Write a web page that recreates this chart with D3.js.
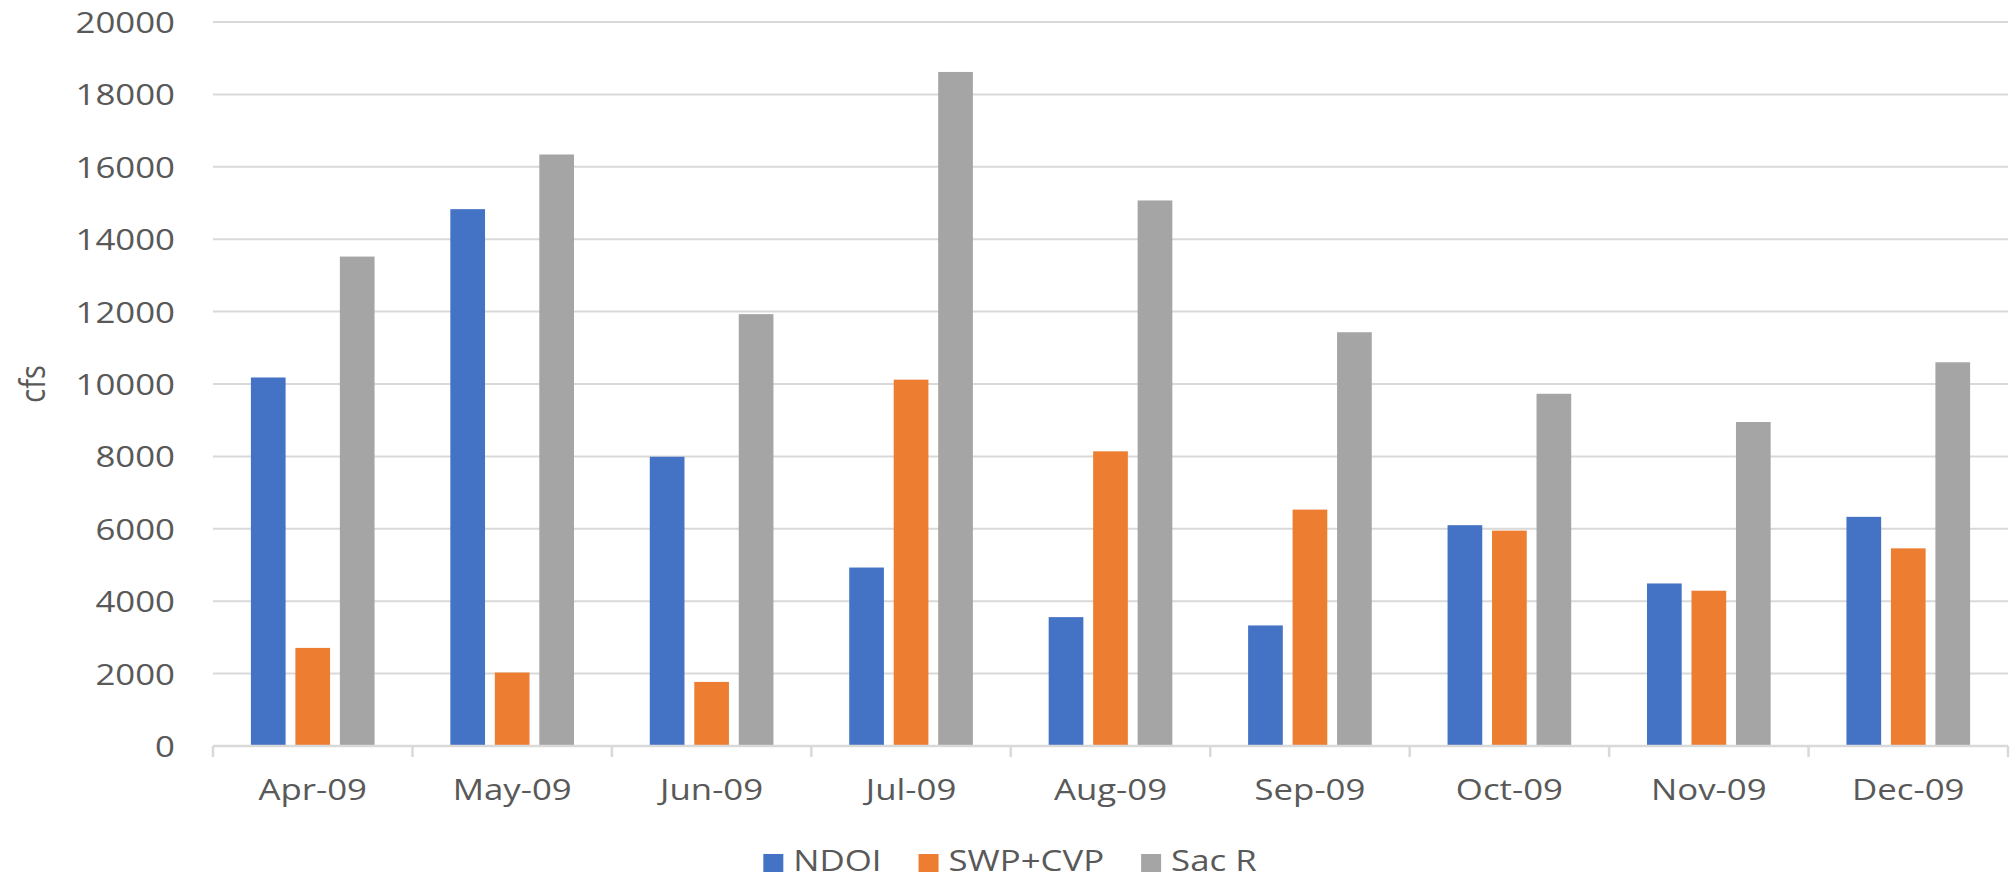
<!DOCTYPE html>
<html>
<head>
<meta charset="utf-8">
<script src="https://cdn.jsdelivr.net/npm/d3@7"></script>
<style>
  html, body { margin: 0; padding: 0; background: #ffffff; }
  svg { display: block; }
  text { font-family: "Open Sans", "Noto Sans", sans-serif; fill: #595959; }
</style>
</head>
<body>
<svg id="chart" width="2013" height="879"></svg>
<script>
// Monthly flows, 2009 (cfs)
const months = ["Apr-09", "May-09", "Jun-09", "Jul-09", "Aug-09", "Sep-09", "Oct-09", "Nov-09", "Dec-09"];
const seriesNames = ["NDOI", "SWP+CVP", "Sac R"];
const ndoi   = [10180, 14830, 7990, 4930, 3560, 3330, 6100, 4490, 6330];
const swpCvp = [2710, 2030, 1770, 10120, 8140, 6530, 5950, 4290, 5460];
const sacR   = [13520, 16340, 11930, 18620, 15070, 11430, 9730, 8950, 10600];
const yTicks = [0, 2000, 4000, 6000, 8000, 10000, 12000, 14000, 16000, 18000, 20000];
const colors = ["#4472C4", "#ED7D31", "#A5A5A5"];

const values = [ndoi, swpCvp, sacR];
const rows = months.map((m, i) => ({
  month: m,
  items: seriesNames.map((s, j) => ({ series: s, value: values[j][i] }))
}));

const svg = d3.select("#chart");
const plot = { left: 213, right: 2008, top: 22, bottom: 746 };
const stretch = 1.2;   // horizontal widening of the label glyphs
const fontSize = 29;

const x0 = d3.scaleBand().domain(months).range([plot.left, plot.right]).paddingInner(0).paddingOuter(0);
const groupWidth = x0.bandwidth() * 0.62;
const x1 = d3.scaleBand().domain(seriesNames).range([0, groupWidth]).paddingInner(0.22).paddingOuter(0);
const y = d3.scaleLinear().domain([0, 20000]).range([plot.bottom, plot.top]);
const color = d3.scaleOrdinal().domain(seriesNames).range(colors);

// horizontal gridlines
svg.append("g")
  .selectAll("line")
  .data(yTicks.filter(d => d > 0))
  .join("line")
  .attr("x1", plot.left).attr("x2", plot.right)
  .attr("y1", d => y(d)).attr("y2", d => y(d))
  .attr("stroke", "#d9d9d9").attr("stroke-width", 2);

// y axis labels
const yAxis = d3.axisLeft(y).tickValues(yTicks).tickSize(0).tickPadding(0).tickFormat(d3.format("d"));
const yg = svg.append("g").attr("transform", `translate(175,0)`).call(yAxis);
yg.select(".domain").remove();
yg.selectAll(".tick text")
  .attr("font-size", fontSize)
  .attr("font-family", null)
  .attr("fill", "#595959")
  .attr("dy", "0.36em")
  .attr("transform", `scale(${stretch},1)`);

// bars
const groups = svg.append("g")
  .selectAll("g")
  .data(rows)
  .join("g")
  .attr("transform", d => `translate(${x0(d.month) + (x0.bandwidth() - groupWidth) / 2},0)`);

groups.selectAll("rect")
  .data(d => d.items)
  .join("rect")
  .attr("x", d => x1(d.series))
  .attr("width", x1.bandwidth())
  .attr("y", d => y(d.value))
  .attr("height", d => y(0) - y(d.value))
  .attr("fill", d => color(d.series));

// category axis
const xAxis = d3.axisBottom(x0).tickSize(0).tickPadding(0);
const xg = svg.append("g").attr("transform", `translate(0,${plot.bottom})`).call(xAxis);
xg.select(".domain").remove();
xg.selectAll(".tick text")
  .attr("font-size", fontSize)
  .attr("font-family", null)
  .attr("fill", "#595959")
  .attr("y", 54)
  .attr("dy", 0)
  .attr("transform", `scale(${stretch},1)`);

svg.append("line")
  .attr("x1", plot.left).attr("x2", plot.right)
  .attr("y1", plot.bottom).attr("y2", plot.bottom)
  .attr("stroke", "#d9d9d9").attr("stroke-width", 2.5);

// tick marks at category boundaries
const bounds = months.map(m => x0(m)).concat([plot.right]);
svg.append("g")
  .selectAll("line")
  .data(bounds)
  .join("line")
  .attr("x1", d => d).attr("x2", d => d)
  .attr("y1", plot.bottom).attr("y2", plot.bottom + 11)
  .attr("stroke", "#d9d9d9").attr("stroke-width", 2.5);

// y axis title
svg.append("text")
  .attr("transform", `translate(45,384) rotate(-90) scale(1,${stretch})`)
  .attr("text-anchor", "middle")
  .attr("font-size", fontSize)
  .text("cfs");

// legend
const legend = svg.append("g");
const sw = 20, sh = 18, gapText = 10, gapItem = 37, legY = 863;
let cursor = 0;
seriesNames.forEach(s => {
  const g = legend.append("g");
  g.append("rect").attr("width", sw).attr("height", sh).attr("y", legY - sh / 2).attr("fill", color(s));
  const t = g.append("text")
    .attr("font-size", fontSize)
    .attr("transform", `translate(${sw + gapText},${legY + 8}) scale(${stretch},1)`)
    .text(s);
  const w = sw + gapText + t.node().getComputedTextLength() * stretch;
  g.attr("transform", `translate(${cursor},0)`);
  cursor += w + gapItem;
});
const legendWidth = cursor - gapItem;
legend.attr("transform", `translate(${1010 - legendWidth / 2},0)`);
</script>
</body>
</html>
